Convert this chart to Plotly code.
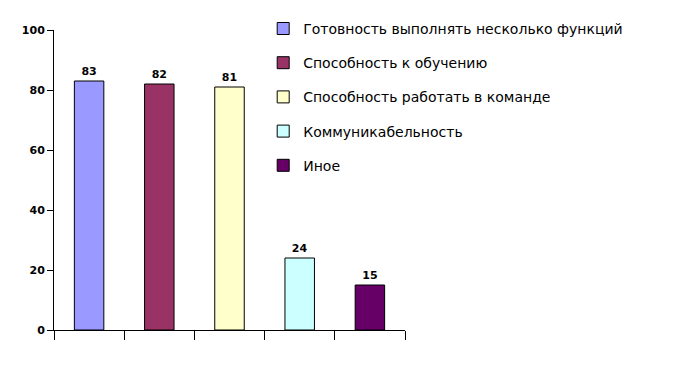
import plotly.graph_objects as go

categories = ["Готовность выполнять несколько функций", "Способность к обучению",
              "Способность работать в команде", "Коммуникабельность", "Иное"]
values = [83, 82, 81, 24, 15]
colors = ["#9999FF", "#993366", "#FFFFCC", "#CCFFFF", "#660066"]
y_ticks = [0, 20, 40, 60, 80, 100]

fig = go.Figure()
for i, (c, v, col) in enumerate(zip(categories, values, colors)):
    fig.add_trace(go.Bar(
        x=[c], y=[v], name=c, marker=dict(color=col, line=dict(color="black", width=1)),
        width=0.42, text=[str(v)], textposition="outside", cliponaxis=False,
        textfont=dict(family="DejaVu Sans", size=11, color="black", weight="bold"),
        legendgroup=str(i),
    ))

fig.update_layout(
    width=692, height=376,
    margin=dict(l=46, r=295, t=22, b=54, autoexpand=False),
    paper_bgcolor="white", plot_bgcolor="white",
    barmode="overlay",
    showlegend=True,
    legend=dict(x=0.596, y=1.057, xanchor="left", yanchor="top",
                font=dict(family="DejaVu Sans", size=14, color="black"),
                tracegroupgap=13, bgcolor="rgba(0,0,0,0)", itemwidth=30),
    font=dict(family="DejaVu Sans", color="black"),
)
fig.update_xaxes(type="category", categoryorder="array", categoryarray=categories,
                 showticklabels=False, showline=True, linecolor="black", linewidth=1,
                 ticks="outside", tickson="boundaries", ticklen=9, tickcolor="black",
                 showgrid=False, zeroline=False)
fig.update_yaxes(range=[0, 100], tickvals=y_ticks, showline=True, linecolor="black",
                 linewidth=1, ticks="outside", ticklen=6, tickcolor="black",
                 showgrid=False, zeroline=False,
                 tickfont=dict(family="DejaVu Sans", size=11, color="black", weight="bold"))
fig.write_html("out.html")
